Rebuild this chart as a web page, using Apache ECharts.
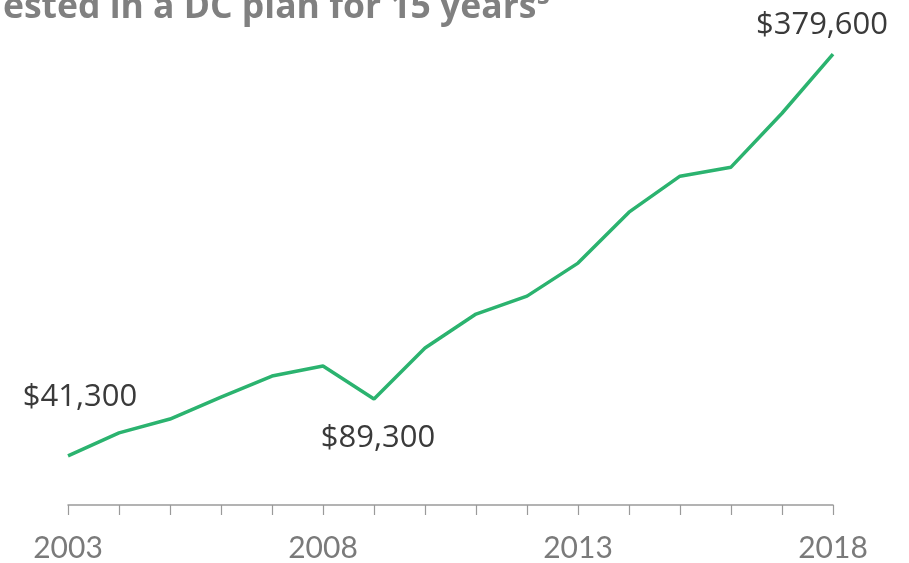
<!DOCTYPE html>
<html>
<head>
<meta charset="utf-8">
<script src="https://cdn.jsdelivr.net/npm/echarts@6/dist/echarts.min.js"></script>
<style>html,body{margin:0;padding:0;background:#fff}#c{width:909px;height:563px}</style>
</head>
<body>
<div id="c"></div>
<script>
const titleText = 'ested in a DC plan for 15 years⁵';
const years = ['2003','2004','2005','2006','2007','2008','2009','2010','2011','2012','2013','2014','2015','2016','2017','2018'];
const balances = [41300, 60700, 72400, 90900, 108600, 117000, 89300, 132200, 160800, 175900, 203700, 246600, 276900, 284500, 329900, 379600];
const labelled = {0: [12, -59], 6: [4, 39], 15: [-11, -29]};

const fmt = v => '$' + v.toLocaleString('en-US');

const chart = echarts.init(document.getElementById('c'));
chart.setOption({
  animation: false,
  title: {
    text: titleText,
    left: -2,
    top: -15,
    textStyle: {fontFamily: 'Open Sans', fontWeight: 'bold', fontSize: 35.5, color: '#808080'}
  },
  grid: {left: 68, right: 76, top: 30, bottom: 58},
  xAxis: {
    type: 'category',
    data: years,
    boundaryGap: false,
    axisLine: {lineStyle: {color: '#9a9a9a', width: 1.5}},
    axisTick: {show: true, length: 10, interval: 0, lineStyle: {color: '#9a9a9a', width: 1.2}},
    axisLabel: {interval: 4, margin: 28, color: '#7a7a7a', fontFamily: 'Lato', fontSize: 30}
  },
  yAxis: {type: 'value', min: 0, max: 400000, show: false, splitLine: {show: false}},
  series: [{
    type: 'line',
    data: balances.map((v, i) => {
      const item = {value: v};
      if (labelled[i]) {
        item.label = {show: true, position: 'inside', offset: labelled[i], formatter: p => fmt(p.value)};
      }
      return item;
    }),
    symbol: 'circle',
    symbolSize: 1,
    itemStyle: {color: 'rgba(0,0,0,0)'},
    lineStyle: {color: '#2bb36f', width: 3.5},
    label: {show: false, color: '#3a3a3a', fontFamily: 'Open Sans', fontSize: 31, align: 'center', verticalAlign: 'middle'}
  }]
});
</script>
</body>
</html>
